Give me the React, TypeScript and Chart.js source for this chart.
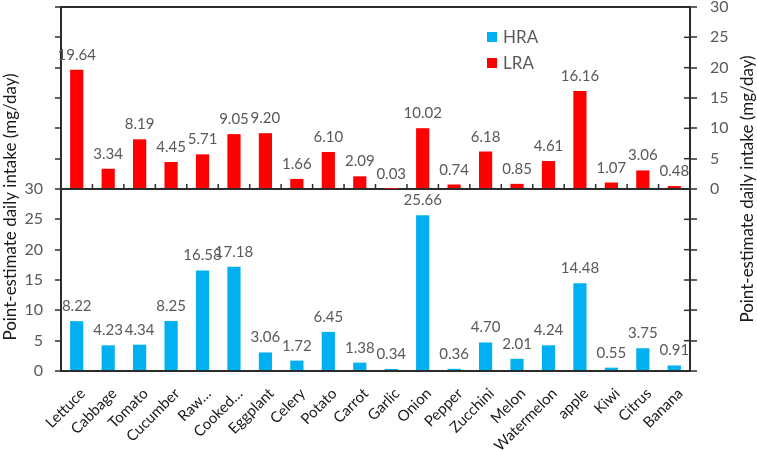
import React, { useEffect, useRef } from 'react';
import { Chart, registerables } from 'chart.js';

Chart.register(...registerables);

const categories = ['Lettuce', 'Cabbage', 'Tomato', 'Cucumber', 'Raw…', 'Cooked…', 'Eggplant', 'Celery', 'Potato', 'Carrot', 'Garlic', 'Onion', 'Pepper', 'Zucchini', 'Melon', 'Watermelon', 'apple', 'Kiwi', 'Citrus', 'Banana'];
const hraValues = [8.22, 4.23, 4.34, 8.25, 16.58, 17.18, 3.06, 1.72, 6.45, 1.38, 0.34, 25.66, 0.36, 4.70, 2.01, 4.24, 14.48, 0.55, 3.75, 0.91];
const lraValues = [19.64, 3.34, 8.19, 4.45, 5.71, 9.05, 9.20, 1.66, 6.10, 2.09, 0.03, 10.02, 0.74, 6.18, 0.85, 4.61, 16.16, 1.07, 3.06, 0.48];
const tickLabels = [0, 5, 10, 15, 20, 25, 30];
const seriesNames = ['HRA', 'LRA'];
const seriesColors = ['#00B0F0', '#FF0000'];
const axisTitle = 'Point-estimate daily intake (mg/day)';

const AX = '#2b2b2b';
const GREY = '#595959';
const FONT = 'Lato, "Open Sans", sans-serif';

const extrasPlugin = {
  id: 'extras',
  afterDatasetsDraw(chart: any) {
    const ctx = chart.ctx;
    const area = chart.chartArea;
    const xs = chart.scales.x;
    const yR = chart.scales.yR;
    ctx.save();
    // category boundary ticks on the middle line (top panel)
    const midY = yR.getPixelForValue(0);
    ctx.strokeStyle = AX;
    ctx.lineWidth = 1.5;
    for (let i = 1; i < categories.length; i++) {
      const x = (xs.getPixelForValue(i - 1) + xs.getPixelForValue(i)) / 2;
      ctx.beginPath();
      ctx.moveTo(x, midY);
      ctx.lineTo(x, midY - 5);
      ctx.stroke();
    }
    // inner half of right axis ticks
    for (let v = -25; v <= 25; v += 5) {
      const y = yR.getPixelForValue(v);
      ctx.beginPath();
      ctx.moveTo(area.right, y);
      ctx.lineTo(area.right - 6, y);
      ctx.stroke();
    }
    // data labels
    ctx.fillStyle = GREY;
    ctx.font = `15px ${FONT}`;
    ctx.textAlign = 'center';
    ctx.textBaseline = 'alphabetic';
    chart.data.datasets.forEach((ds: any, di: number) => {
      const meta = chart.getDatasetMeta(di);
      meta.data.forEach((el: any, i: number) => {
        ctx.fillText(Number(ds.data[i]).toFixed(2), el.x, el.y - 10);
      });
    });
    // category labels, rotated 45 degrees
    ctx.fillStyle = '#1a1a1a';
    ctx.font = `15px ${FONT}`;
    ctx.textAlign = 'right';
    ctx.textBaseline = 'middle';
    categories.forEach((c, i) => {
      const x = xs.getPixelForValue(i);
      ctx.save();
      ctx.translate(x + 6, area.bottom + 20);
      ctx.rotate(-Math.PI / 4);
      ctx.fillText(c, 0, 0);
      ctx.restore();
    });
    // legend
    ctx.font = `17px ${FONT}`;
    ctx.textAlign = 'left';
    ctx.textBaseline = 'middle';
    const lx = area.left + 426;
    const ly = [37, 63];
    seriesNames.forEach((name, i) => {
      ctx.fillStyle = seriesColors[i];
      ctx.fillRect(lx, ly[i] - 5, 10, 10);
      ctx.fillStyle = GREY;
      ctx.fillText(name, lx + 16, ly[i] + 1);
    });
    // axis titles
    ctx.fillStyle = '#1a1a1a';
    ctx.font = `17px ${FONT}`;
    ctx.textAlign = 'center';
    ctx.textBaseline = 'middle';
    ctx.save();
    ctx.translate(11, 207);
    ctx.rotate(-Math.PI / 2);
    ctx.fillText(axisTitle, 0, 0);
    ctx.restore();
    ctx.save();
    ctx.translate(748, (area.top + area.bottom) / 2);
    ctx.rotate(-Math.PI / 2);
    ctx.fillText(axisTitle, 0, 0);
    ctx.restore();
    ctx.restore();
  },
};

export default function App() {
  const ref = useRef<HTMLCanvasElement | null>(null);
  useEffect(() => {
    if (!ref.current) return;
    const chart = new Chart(ref.current, {
      type: 'bar',
      data: {
        labels: categories,
        datasets: [
          {
            label: seriesNames[0],
            data: hraValues,
            yAxisID: 'yL',
            backgroundColor: seriesColors[0],
            barPercentage: 0.42,
            categoryPercentage: 1,
            grouped: false,
          } as any,
          {
            label: seriesNames[1],
            data: lraValues,
            yAxisID: 'yR',
            backgroundColor: seriesColors[1],
            barPercentage: 0.42,
            categoryPercentage: 1,
            grouped: false,
          } as any,
        ],
      },
      options: {
        animation: false,
        responsive: false,
        maintainAspectRatio: false,
        layout: { padding: { top: 7, left: 0, right: 0, bottom: 0 } },
        plugins: { legend: { display: false }, tooltip: { enabled: false } },
        scales: {
          x: {
            grid: { drawOnChartArea: false, drawTicks: false },
            border: { display: true, color: AX, width: 2 },
            ticks: { display: false },
            afterFit: (s: any) => {
              s.height = 79;
              s.paddingLeft = 0;
              s.paddingRight = 0;
            },
          },
          yL: {
            position: 'left',
            min: 0,
            max: 60,
            ticks: {
              stepSize: 5,
              padding: 12,
              color: GREY,
              font: { size: 16, family: FONT },
              callback: (v: any) => (tickLabels.includes(Number(v)) ? String(v) : ''),
            },
            grid: {
              drawOnChartArea: true,
              color: (c: any) => (c.tick && c.tick.value === 60 ? AX : 'rgba(0,0,0,0)'),
              lineWidth: 2,
              tickColor: AX,
              tickLength: 6,
              tickWidth: 1.5,
            },
            border: { display: true, color: AX, width: 2 },
            afterFit: (s: any) => {
              s.width = 61;
              s.paddingTop = 0;
              s.paddingBottom = 0;
            },
          },
          yR: {
            position: 'right',
            min: -30,
            max: 30,
            ticks: {
              stepSize: 5,
              padding: 13,
              color: GREY,
              font: { size: 16, family: FONT },
              callback: (v: any) => (tickLabels.includes(Number(v)) ? String(v) : ''),
            },
            grid: {
              drawOnChartArea: true,
              color: (c: any) => (c.tick && c.tick.value === 0 ? AX : 'rgba(0,0,0,0)'),
              lineWidth: 2,
              tickColor: AX,
              tickLength: 7,
              tickWidth: 1.5,
            },
            border: { display: true, color: AX, width: 2 },
            afterFit: (s: any) => {
              s.width = 67;
              s.paddingTop = 0;
              s.paddingBottom = 0;
            },
          },
        },
      },
      plugins: [extrasPlugin],
    });
    return () => chart.destroy();
  }, []);
  return (
    <div style={{ position: 'fixed', left: 0, top: 0, width: 757, height: 450, background: '#fff' }}>
      <canvas ref={ref} width={757} height={450} style={{ display: 'block', width: 757, height: 450 }} />
    </div>
  );
}
